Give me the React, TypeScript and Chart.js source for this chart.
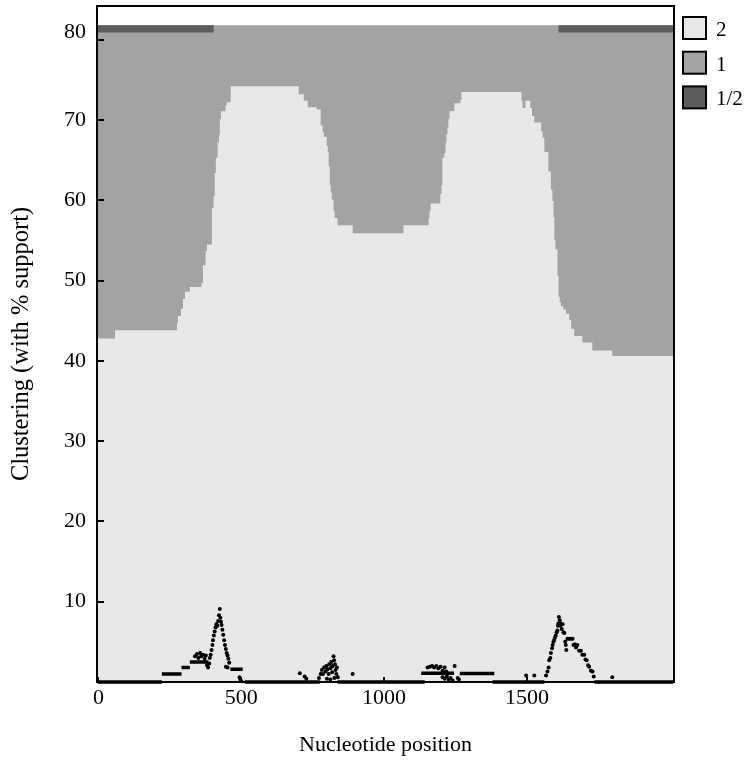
import React, { useEffect, useRef } from 'react';
import { Chart, registerables } from 'chart.js';

Chart.register(...registerables);

// ---- axes ----
const X_MIN = -5;
const X_MAX = 2015;
const Y_MIN = 0;
const Y_MAX = 84.2;
const X_TICKS = [0, 500, 1000, 1500];
const Y_TICKS = [10, 20, 30, 40, 50, 60, 70, 80];

// ---- stacked clustering areas ----
const TOP_LEVEL = 81.8;
const DARK_FLOOR = 80.9;
const DARK_START = [-5, 1610];
const DARK_END = [404, 2015];

// light "2" area upper boundary (step starts)
const LIGHT_X = [
  -5, 58, 275, 278, 289, 296, 303, 320, 361, 366, 375, 380, 397, 403, 407, 411, 417, 422, 425, 429, 445, 449, 463,
  701, 719, 733, 764, 778, 785, 789, 799, 803, 806, 810, 813, 817, 823, 827, 837, 890, 1068, 1156, 1159, 1163, 1197,
  1201, 1204, 1211, 1215, 1218, 1222, 1225, 1229, 1246, 1267, 1271, 1481, 1485, 1495, 1512, 1518, 1526, 1550, 1555,
  1561, 1575, 1584, 1589, 1593, 1596, 1600, 1607, 1611, 1615, 1619, 1627, 1637, 1648, 1655, 1666, 1694, 1729, 1799, 2015,
];
const LIGHT_Y = [
  42.8, 43.8, 44.7, 45.6, 46.5, 47.7, 48.6, 49.2, 49.7, 51.9, 53.7, 54.5, 59.0, 60.5, 63.4, 65.3, 67.2, 68.1, 70.1, 71.1, 71.8, 72.2, 74.2,
  73.2, 72.4, 71.6, 71.3, 69.3, 68.5, 67.9, 66.8, 66.0, 64.2, 61.9, 61.0, 60.1, 58.7, 57.8, 56.9, 55.9, 56.9, 57.8, 58.7, 59.6, 60.8,
  61.9, 65.3, 65.9, 67.1, 68.2, 69.1, 70.1, 71.1, 72.1, 72.5, 73.5, 72.4, 71.5, 72.4, 71.5, 70.5, 69.7, 68.6, 67.8,
  66.0, 63.6, 61.3, 59.9, 57.9, 55.1, 53.9, 50.6, 48.0, 47.3, 46.8, 46.4, 45.9, 45.1, 44.0, 43.1, 42.3, 41.3, 40.6, 40.6,
];

// ---- dense runs of points (drawn as solid runs) ----
const RUN_X0 = [-3, 222, 291, 320, 462, 512, 837, 1130, 1265, 1380, 1736];
const RUN_X1 = [222, 291, 320, 385, 505, 775, 1142, 1245, 1386, 1561, 2012];
const RUN_Y = [0, 1.0, 1.8, 2.5, 1.6, 0, 0, 1.1, 1.05, 0, 0];

// sparse zero-level points (dashed)
const SPARSE_X0 = [222, 775, 1142, 1561];
const SPARSE_X1 = [505, 837, 1380, 1736];

// ---- individual points ----
const DOT_X = [
  338, 345, 350, 356, 360, 366, 372, 376, 380, 384, 388, 390, 393, 396, 399, 401, 404, 407, 410, 413, 416, 419, 422, 425,
  427, 429, 431, 434, 437, 440, 443, 446, 449, 452, 455, 458, 446, 452, 494, 497, 500,
  705, 722, 728, 772, 778, 782, 786, 790, 795, 798, 802, 806, 808, 812, 815, 818, 820, 823, 825, 828, 830, 833, 835, 838, 800, 812, 826, 890,
  1152, 1160, 1168, 1175, 1183, 1190, 1198, 1205, 1212, 1218, 1247, 1205, 1212, 1220, 1226, 1233, 1240, 1258, 1262,
  1497, 1526, 1567, 1572, 1576, 1578, 1582, 1584, 1588, 1590, 1593, 1595, 1598, 1601, 1604, 1607, 1609, 1610, 1612, 1615,
  1617, 1619, 1622, 1625, 1628, 1631, 1634, 1636, 1638, 1642, 1648, 1654, 1660, 1663, 1668, 1672, 1677, 1683, 1689, 1694,
  1701, 1705, 1709, 1714, 1718, 1724, 1730, 1734, 1799,
];
const DOT_Y = [
  3.2, 3.5, 3.0, 3.6, 3.2, 3.4, 2.9, 3.3, 2.1, 1.8, 2.3, 3.0, 3.4, 4.0, 4.6, 5.2, 5.8, 6.3, 6.8, 7.2, 7.0, 7.6, 8.3, 9.1,
  8.0, 7.5, 7.1, 6.5, 5.9, 5.2, 4.6, 4.1, 3.6, 3.3, 2.9, 2.4, 1.9, 1.8, 0.6, 0.3, 0.1,
  1.1, 0.7, 0.4, 0.5, 1.0, 1.5, 1.0, 1.8, 1.3, 2.0, 1.6, 1.0, 2.2, 1.7, 2.5, 1.2, 2.0, 3.2, 2.7, 2.2, 1.5, 1.0, 1.8, 0.6, 0.4, 0.3, 0.5, 1.0,
  1.8, 1.9, 2.0, 1.8, 2.0, 1.7, 1.9, 1.4, 1.8, 1.3, 2.0, 0.6, 0.4, 0.7, 0.3, 0.5, 0.2, 0.5, 0.3,
  0.8, 0.8, 0.8, 1.3, 1.8, 2.7, 3.0, 3.6, 4.2, 4.6, 5.0, 5.2, 5.5, 5.8, 6.2, 6.4, 7.0, 7.3, 8.1, 7.7,
  7.0, 7.3, 6.6, 7.2, 6.2, 6.1, 5.0, 4.6, 4.0, 5.4, 5.4, 5.4, 5.4, 4.6, 4.7, 4.3, 4.6, 3.9, 3.9, 3.4,
  3.4, 2.8, 2.7, 2.1, 1.9, 1.4, 1.3, 0.7, 0.6,
];

const LEGEND_LABELS = ['2', '1', '1/2'];
const LEGEND_COLORS = ['#e8e8e8', '#a3a3a3', '#5c5c5c'];

const SERIF = '"Liberation Serif", "Times New Roman", "DejaVu Serif", serif';

function segmentsData(x0: number[], x1: number[], y: number[] | number) {
  const out: { x: number; y: number | null }[] = [];
  x0.forEach((a, i) => {
    const yy = Array.isArray(y) ? y[i] : y;
    if (i > 0) out.push({ x: a, y: null });
    out.push({ x: a, y: yy });
    out.push({ x: x1[i], y: yy });
  });
  return out;
}

const decorPlugin = {
  id: 'decor',
  afterDraw(chart: any) {
    const { ctx, chartArea: a } = chart;
    const xs = chart.scales.x;
    const ys = chart.scales.y;
    ctx.save();
    ctx.strokeStyle = '#000';
    ctx.lineWidth = 2;
    ctx.beginPath();
    Y_TICKS.forEach((v) => {
      const p = Math.round(ys.getPixelForValue(v));
      ctx.moveTo(a.left, p);
      ctx.lineTo(a.left + 7, p);
    });
    X_TICKS.forEach((v) => {
      const p = Math.round(xs.getPixelForValue(v));
      ctx.moveTo(p, a.bottom);
      ctx.lineTo(p, a.bottom - 5);
    });
    ctx.stroke();
    ctx.strokeRect(a.left, a.top, a.right - a.left, a.bottom - a.top);

    // legend
    LEGEND_LABELS.forEach((lab, i) => {
      const top = 17 + i * 34.7;
      ctx.fillStyle = LEGEND_COLORS[i];
      ctx.fillRect(683, top, 23, 22);
      ctx.lineWidth = 2;
      ctx.strokeStyle = '#000';
      ctx.strokeRect(683, top, 23, 22);
      ctx.fillStyle = '#000';
      ctx.font = `21px ${SERIF}`;
      ctx.textAlign = 'left';
      ctx.textBaseline = 'alphabetic';
      ctx.fillText(lab, 716, top + 19);
    });

    // axis titles
    ctx.fillStyle = '#000';
    ctx.font = `22px ${SERIF}`;
    ctx.textAlign = 'center';
    ctx.textBaseline = 'middle';
    ctx.fillText('Nucleotide position', (a.left + a.right) / 2, 745);
    ctx.save();
    ctx.font = `24.5px ${SERIF}`;
    ctx.translate(22, (a.top + a.bottom) / 2);
    ctx.rotate(-Math.PI / 2);
    ctx.fillText('Clustering (with % support)', 0, 0);
    ctx.restore();
    ctx.restore();
  },
};

export default function App() {
  const ref = useRef<HTMLCanvasElement | null>(null);

  useEffect(() => {
    if (!ref.current) return;
    const lightData = LIGHT_X.map((x, i) => ({ x, y: LIGHT_Y[i] }));
    const darkData = segmentsData(DARK_START, DARK_END, TOP_LEVEL);
    const midData = [
      { x: X_MIN, y: TOP_LEVEL },
      { x: X_MAX, y: TOP_LEVEL },
    ];
    const runData = segmentsData(RUN_X0, RUN_X1, RUN_Y);
    const sparseData = segmentsData(SPARSE_X0, SPARSE_X1, 0);
    const dotData = DOT_X.map((x, i) => ({ x, y: DOT_Y[i] }));

    const chart = new Chart(ref.current, {
      type: 'line',
      data: {
        datasets: [
          {
            label: 'points',
            data: dotData,
            showLine: false,
            pointRadius: 2,
            pointBorderWidth: 0,
            pointBackgroundColor: '#000',
            clip: false,
          } as any,
          {
            label: 'runs',
            data: runData,
            borderColor: '#000',
            borderWidth: 3.5,
            pointRadius: 0,
            spanGaps: false,
            fill: false,
            clip: false,
          },
          {
            label: 'sparse',
            data: sparseData,
            borderColor: '#000',
            borderWidth: 1.3,
            borderDash: [5, 6],
            pointRadius: 0,
            spanGaps: false,
            fill: false,
            clip: false,
          },
          {
            label: LEGEND_LABELS[0],
            data: lightData,
            stepped: true,
            borderWidth: 0,
            borderColor: 'rgba(0,0,0,0)',
            backgroundColor: LEGEND_COLORS[0],
            fill: 'origin',
            pointRadius: 0,
          },
          {
            label: LEGEND_LABELS[2],
            data: darkData,
            borderWidth: 0,
            borderColor: 'rgba(0,0,0,0)',
            backgroundColor: LEGEND_COLORS[2],
            fill: { value: DARK_FLOOR },
            spanGaps: false,
            pointRadius: 0,
          } as any,
          {
            label: LEGEND_LABELS[1],
            data: midData,
            borderWidth: 0,
            borderColor: 'rgba(0,0,0,0)',
            backgroundColor: LEGEND_COLORS[1],
            fill: 'origin',
            pointRadius: 0,
          },
        ],
      },
      options: {
        responsive: false,
        animation: false,
        devicePixelRatio: 1,
        events: [],
        layout: { padding: { left: 0, right: 74, top: 6, bottom: 0 } },
        plugins: {
          legend: { display: false },
          tooltip: { enabled: false },
          title: { display: false },
        },
        scales: {
          x: {
            type: 'linear',
            min: X_MIN,
            max: X_MAX,
            grid: { display: false, drawTicks: false },
            border: { display: false },
            afterBuildTicks: (s: any) => {
              s.ticks = X_TICKS.map((v) => ({ value: v }));
            },
            afterFit: (s: any) => {
              s.height = 79;
              s.paddingLeft = 0;
              s.paddingRight = 0;
            },
            ticks: {
              color: '#000',
              autoSkip: false,
              maxRotation: 0,
              padding: 3,
              font: { family: SERIF, size: 22 },
              callback: (v: any) => String(v),
            },
          },
          y: {
            type: 'linear',
            min: Y_MIN,
            max: Y_MAX,
            grid: { display: false, drawTicks: false },
            border: { display: false },
            afterBuildTicks: (s: any) => {
              s.ticks = Y_TICKS.map((v) => ({ value: v }));
            },
            afterFit: (s: any) => {
              s.width = 97;
              s.paddingTop = 0;
              s.paddingBottom = 0;
            },
            ticks: {
              color: '#000',
              autoSkip: false,
              padding: 11,
              font: { family: SERIF, size: 22, lineHeight: 0.65 },
              callback: (v: any) => (v === 80 ? ['80', ''] : String(v)),
            },
          },
        },
      },
      plugins: [decorPlugin],
    } as any);
    return () => chart.destroy();
  }, []);

  return (
    <div style={{ position: 'absolute', left: 0, top: 0, width: 748, height: 761 }}>
      <canvas ref={ref} width={748} height={761} style={{ display: 'block' }} />
    </div>
  );
}
